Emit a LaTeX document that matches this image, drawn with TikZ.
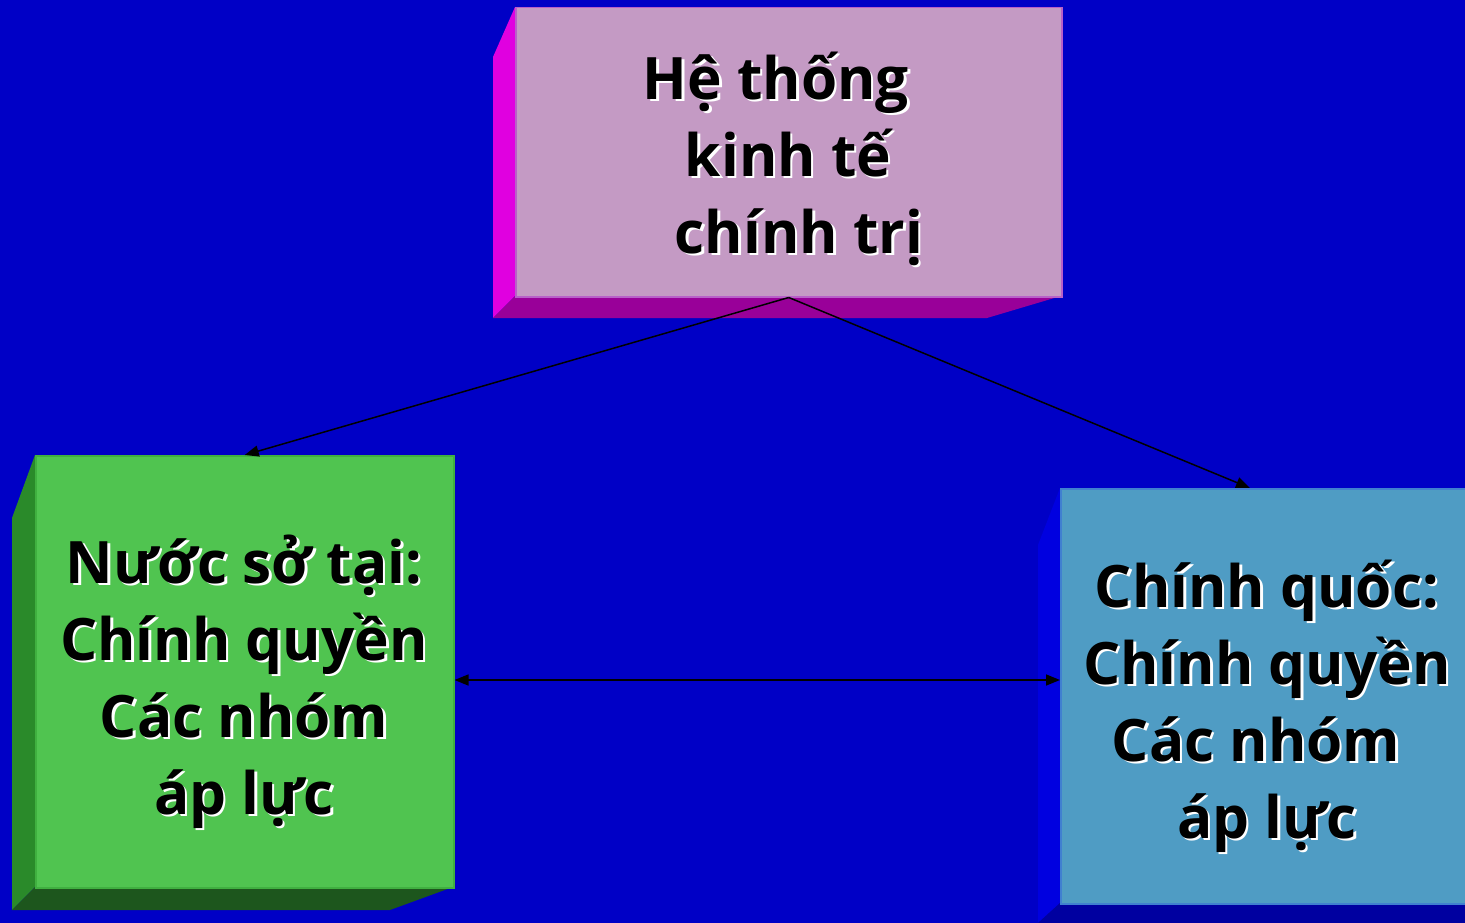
\documentclass[tikz,border=0pt]{standalone}
\usepackage{fontspec}
\setmainfont{Open Sans}
\usetikzlibrary{arrows.meta}
\definecolor{bg}{RGB}{0,0,198}
\definecolor{topfront}{RGB}{196,154,196}
\definecolor{topedge}{RGB}{184,96,200}
\definecolor{topleft}{RGB}{224,0,224}
\definecolor{topbot}{RGB}{153,0,153}
\definecolor{grfront}{RGB}{80,196,80}
\definecolor{gredge}{RGB}{64,176,64}
\definecolor{grleft}{RGB}{42,138,42}
\definecolor{grbot}{RGB}{29,86,29}
\definecolor{blfront}{RGB}{79,156,196}
\definecolor{bledge}{RGB}{64,128,208}
\definecolor{blleft}{RGB}{0,0,224}
\definecolor{blbot}{RGB}{0,0,160}
\tikzset{
  face/.style={rectangle, inner sep=0pt, line width=1.5pt, anchor=north west},
  txt/.style={font=\bfseries\fontsize{58.5}{77}\selectfont, align=center, anchor=base, inner sep=0pt, text=black},
  shadowtxt/.style={txt, text=white},
  arr/.style={line width=1.5pt, -{Triangle[length=14pt,width=11pt]}},
  arrtwo/.style={line width=1.5pt, {Triangle[length=14pt,width=11pt]}-{Triangle[length=14pt,width=11pt]}}
}
\begin{document}
\begin{tikzpicture}[x=1pt,y=-1pt]
\useasboundingbox (0,0) rectangle (1465,923);
\fill[bg] (0,0) rectangle (1465,923);
% top box
\fill[topleft] (515,7) -- (493,57) -- (493,318) -- (515,296) -- cycle;
\fill[topbot] (493,318) -- (515,296) -- (1061,296) -- (987,318) -- cycle;
\node[face, fill=topfront, draw=topedge, minimum width=546pt, minimum height=289pt] (sys) at (515,7) {};
% left box
\fill[grleft] (35,455) -- (12,518) -- (12,910) -- (35,887) -- cycle;
\fill[grbot] (12,910) -- (35,887) -- (453,887) -- (390,910) -- cycle;
\node[face, fill=grfront, draw=gredge, minimum width=418pt, minimum height=432pt] (nat) at (35,455) {};
% right box
\fill[blleft] (1060,488) -- (1038,545) -- (1038,923) -- (1060,903) -- cycle;
\fill[blbot] (1038,923) -- (1060,903) -- (1470,903) -- (1470,923) -- cycle;
\node[face, fill=blfront, draw=bledge, minimum width=412pt, minimum height=415pt] (met) at (1060,488) {};
% texts
\node[shadowtxt] at (790.5,255.5) {Hệ thống\rule{24pt}{0pt}\\kinh tế\\\rule{22pt}{0pt}chính trị};
\node[txt] (systxt) at (788,253) {Hệ thống\rule{24pt}{0pt}\\kinh tế\\\rule{22pt}{0pt}chính trị};
\node[shadowtxt] at (246.5,816.5) {Nước sở tại:\\Chính quyền\\Các nhóm\\áp lực};
\node[txt] (nattxt) at (244,814) {Nước sở tại:\\Chính quyền\\Các nhóm\\áp lực};
\node[shadowtxt] at (1269.5,840.5) {Chính quốc:\\Chính quyền\\Các nhóm\rule{22pt}{0pt}\\áp lực};
\node[txt] (mettxt) at (1267,838) {Chính quốc:\\Chính quyền\\Các nhóm\rule{22pt}{0pt}\\áp lực};
% connectors
\coordinate (mid) at (750,680);
\draw[arr] (sys.south) -- (nat.north);
\draw[arr] (sys.south) -- ([xshift=190pt]met.north west);
\draw[arrtwo] (nat.east |- mid) -- (met.west |- mid);
\end{tikzpicture}
\end{document}
